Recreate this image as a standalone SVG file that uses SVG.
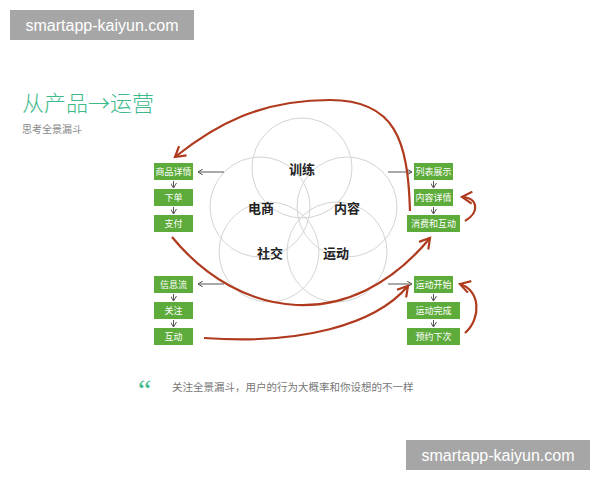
<svg xmlns="http://www.w3.org/2000/svg" width="600" height="480" viewBox="0 0 600 480">
<defs>
<style>
text{font-family:"Noto Sans CJK SC","Liberation Sans",sans-serif}
.b{fill:#5dab3a}
.bt{fill:#fff;font-size:9px;text-anchor:middle}
.c{fill:none;stroke:#d4d4d4;stroke-width:1}
.ct{font-size:13px;font-weight:bold;fill:#222;text-anchor:middle}
.g{stroke:#555;stroke-width:1;fill:none;marker-end:url(#ga)}
.r{stroke:#b03a1e;stroke-width:2.2;fill:none;marker-end:url(#ra)}
</style>
<marker id="ga" markerWidth="6" markerHeight="6" refX="5" refY="3" orient="auto" markerUnits="userSpaceOnUse"><path d="M0,0 L5,3 L0,6" fill="none" stroke="#555"/></marker>
<marker id="ra" markerWidth="14" markerHeight="14" refX="11" refY="7" orient="auto" markerUnits="userSpaceOnUse"><path d="M1,1 L11,7 L1,13" fill="none" stroke="#b03a1e" stroke-width="2.2"/></marker>
</defs>
<rect width="600" height="480" fill="#fff"/>
<rect x="10" y="10" width="184" height="30" fill="#a6a6a6"/>
<text x="102" y="31" font-size="16" fill="#fff" text-anchor="middle" style="font-family:'Liberation Sans',sans-serif">smartapp-kaiyun.com</text>
<rect x="406" y="440" width="184" height="30" fill="#a6a6a6"/>
<text x="498" y="461" font-size="16" fill="#fff" text-anchor="middle" style="font-family:'Liberation Sans',sans-serif">smartapp-kaiyun.com</text>
<text x="22" y="111" font-size="22" font-weight="300" fill="#3dba8a">从产品→运营</text>
<text x="22" y="133" font-size="10" fill="#888">思考全景漏斗</text>
<g id="circles">
<circle class="c" cx="302" cy="168" r="50"/>
<circle class="c" cx="260" cy="207" r="50"/>
<circle class="c" cx="347" cy="207" r="50"/>
<circle class="c" cx="269" cy="252" r="50"/>
<circle class="c" cx="337" cy="252" r="50"/>
<text class="ct" x="302" y="174">训练</text>
<text class="ct" x="261" y="213">电商</text>
<text class="ct" x="347" y="213">内容</text>
<text class="ct" x="270" y="258">社交</text>
<text class="ct" x="336" y="258">运动</text>
</g>
<g id="n1"><rect class="b" x="154" y="163" width="39" height="17"/><text class="bt" x="173.5" y="175">商品详情</text></g>
<g id="n2"><rect class="b" x="154" y="189" width="39" height="17"/><text class="bt" x="173.5" y="201">下单</text></g>
<g id="n3"><rect class="b" x="154" y="215" width="39" height="17"/><text class="bt" x="173.5" y="227">支付</text></g>
<g id="n4"><rect class="b" x="154" y="276" width="39" height="17"/><text class="bt" x="173.5" y="288">信息流</text></g>
<g id="n5"><rect class="b" x="154" y="302" width="39" height="17"/><text class="bt" x="173.5" y="314">关注</text></g>
<g id="n6"><rect class="b" x="154" y="328" width="39" height="17"/><text class="bt" x="173.5" y="340">互动</text></g>
<g id="n7"><rect class="b" x="414" y="163" width="39" height="17"/><text class="bt" x="433.5" y="175">列表展示</text></g>
<g id="n8"><rect class="b" x="414" y="189" width="39" height="17"/><text class="bt" x="433.5" y="201">内容详情</text></g>
<g id="n9"><rect class="b" x="407" y="215" width="53" height="17"/><text class="bt" x="433.5" y="227">消费和互动</text></g>
<g id="n10"><rect class="b" x="414" y="276" width="39" height="17"/><text class="bt" x="433.5" y="288">运动开始</text></g>
<g id="n11"><rect class="b" x="407" y="302" width="53" height="17"/><text class="bt" x="433.5" y="314">运动完成</text></g>
<g id="n12"><rect class="b" x="407" y="328" width="53" height="17"/><text class="bt" x="433.5" y="340">预约下次</text></g>
<g id="connectors">
<path class="g" d="M224,172 H198"/>
<path class="g" d="M224,284 H198"/>
<path class="g" d="M388,172 H412"/>
<path class="g" d="M388,284 H412"/>
<path class="g" d="M173.5,181 V188"/>
<path class="g" d="M173.5,207 V214"/>
<path class="g" d="M173.5,294 V301"/>
<path class="g" d="M173.5,320 V327"/>
<path class="g" d="M433.5,181 V188"/>
<path class="g" d="M433.5,207 V214"/>
<path class="g" d="M433.5,294 V301"/>
<path class="g" d="M433.5,320 V327"/>
<path class="r" d="M410,211 C408,140 395,100 330,100 C260,100 215,125 175,157"/>
<path class="r" d="M172,237 C240,320 350,335 430,238"/>
<path class="r" d="M204,338 C300,345 375,325 408,286"/>
<path class="r" d="M465,221 C480,212 478,198 462,197"/>
<path class="r" d="M465,333 C482,318 480,290 460,284"/>
</g>
<text x="138" y="400" font-size="30" fill="#3dba8a" style="font-family:'Liberation Serif',serif">“</text>
<text x="172" y="391" font-size="10.5" fill="#777">关注全景漏斗，用户的行为大概率和你设想的不一样</text>
</svg>
